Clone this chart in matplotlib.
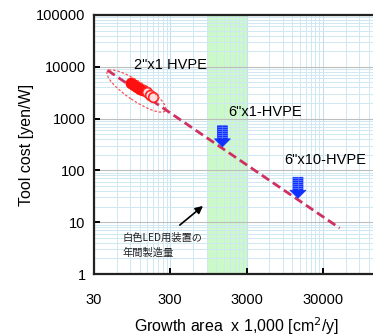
import matplotlib
matplotlib.use("Agg")
import matplotlib.pyplot as plt
import numpy as np
from matplotlib.patches import Ellipse, Polygon
from matplotlib.transforms import ScaledTranslation
import matplotlib.ticker as mticker

plt.rcParams['font.family'] = ['Liberation Sans', 'Noto Sans CJK JP', 'DejaVu Sans']

# ---- data ----
trend_area = [45, 50000]
trend_cost = [8600, 7.7]
filled_area = [92, 100, 109, 120, 131]
filled_cost = [4860, 4450, 4070, 3730, 3570]
open_area = [148, 162, 177]
open_cost = [3260, 2850, 2610]
arrow_area = [1450, 14200]
arrow_cost = [285, 29]
band_range = [920, 3000]
xticks = [30, 300, 3000, 30000]
yticks = [1, 10, 100, 1000, 10000, 100000]
labels = ['2"x1 HVPE', '6"x1-HVPE', '6"x10-HVPE']
label_area = [298, 5200, 31900]
label_cost = [10800, 1340, 158]

fig = plt.figure(figsize=(3.73, 3.36), dpi=100)
ax = fig.add_axes([94/373, (336-274)/336, 305/373, 259/336])
ax.set_xscale('log')
ax.set_yscale('log')
ax.set_xlim(30, 300000)
ax.set_ylim(1, 100000)

# grid
minor_x = [30 * k * 10**n for n in range(0, 4) for k in range(2, 10)]
ax.xaxis.set_major_locator(mticker.FixedLocator(xticks))
ax.xaxis.set_minor_locator(mticker.FixedLocator(minor_x))
ax.yaxis.set_major_locator(mticker.FixedLocator(yticks))
ax.yaxis.set_minor_locator(mticker.LogLocator(base=10, subs=np.arange(2, 10)))
ax.xaxis.set_major_formatter(mticker.FixedFormatter([str(t) for t in xticks]))
ax.yaxis.set_major_formatter(mticker.FixedFormatter([str(t) for t in yticks]))
ax.xaxis.set_minor_formatter(mticker.NullFormatter())
ax.yaxis.set_minor_formatter(mticker.NullFormatter())
ax.grid(which='minor', color='#cfe8f2', lw=0.7)
ax.grid(which='major', axis='x', color='#c2e0ee', lw=0.8)
ax.grid(which='major', axis='y', color='#bdbdbd', lw=0.8)
ax.set_axisbelow(True)

ax.axvspan(band_range[0], band_range[1], color='#ccf9c8', zorder=0.5, lw=0)

ax.tick_params(which='major', direction='in', length=4, width=1.4, labelsize=10.5,
               top=False, right=False, pad=6)
ax.tick_params(which='minor', length=0)
ax.tick_params(axis='x', pad=14)
for s in ['left', 'bottom', 'top']:
    ax.spines[s].set_linewidth(1.6)
    ax.spines[s].set_color('#222222')
ax.spines['right'].set_visible(False)

# trend line
ax.plot(trend_area, trend_cost, color='#d03060', lw=2, ls=(0, (3.2, 1.6)), zorder=3)

# points
ax.plot(filled_area, filled_cost, 'o', ms=7.5, color='#ff1010', mec='#ff1010', zorder=4)
ax.plot(open_area, open_cost, 'o', ms=7, mfc='#ffdede', mec='#ff2020', mew=1.2, zorder=4)

# ellipse around points
ell_tr = fig.dpi_scale_trans + ScaledTranslation(108, 3400, ax.transData)
ax.add_patch(Ellipse((0, 0), 0.70, 0.19, angle=-34, transform=ell_tr,
                     fill=False, ec='#ff5050', lw=0.9, ls=(0, (2, 1.5)), zorder=4))

# blue arrows (pixel offsets from tip)
px = 1 / 100.0
shape = np.array([[0, 0], [-8, 8], [-5, 8], [-5, 21], [5, 21], [5, 8], [8, 8]]) * px
for a, c in zip(arrow_area, arrow_cost):
    tr = fig.dpi_scale_trans + ScaledTranslation(a, c, ax.transData)
    ax.add_patch(Polygon(shape, closed=True, transform=tr, fc='#1030ff', ec='#1030ff',
                         lw=0.5, zorder=5))
    for yy in range(10, 21, 2):
        ax.plot([-4.5 * px, 4.5 * px], [yy * px, yy * px], color='#5a78ff', lw=0.6,
                transform=tr, zorder=6)
    ax.plot([0, 0], [9 * px, 21 * px], color='#5a78ff', lw=0.6, transform=tr, zorder=6)

# labels
for t, a, c in zip(labels, label_area, label_cost):
    ax.text(a, c, t, ha='center', va='center', fontsize=10.5, zorder=7)

ax.annotate('', xy=(806, 20.6), xytext=(400, 8.8),
            arrowprops=dict(arrowstyle='-|>', color='black', lw=1.2,
                            mutation_scale=11, shrinkA=0, shrinkB=0))
ax.text(70, 3.6, '白色LED用装置の\n年間製造量', fontsize=7.4, ha='left', va='center',
        linespacing=1.5, family=['Noto Sans CJK JP', 'DejaVu Sans'], color='#222222')

fig.text(27/373, 1 - 145/336, 'Tool cost [yen/W]', rotation=90, ha='center', va='center',
         fontsize=11.5)
fig.text(237/373, 1 - 326/336, 'Growth area  x 1,000 [cm$^2$/y]', ha='center', va='center',
         fontsize=11.5)

fig.savefig('out.png', dpi=100)
